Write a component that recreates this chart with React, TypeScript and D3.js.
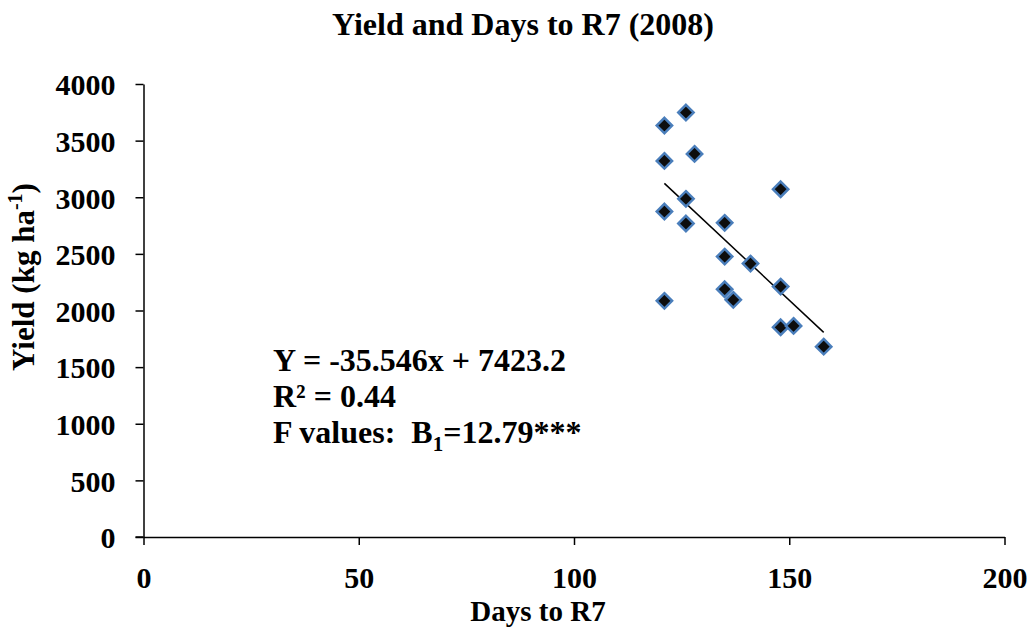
import React, { useRef, useEffect } from 'react';
import * as d3 from 'd3';

// days to R7 and yield (kg/ha)
const days = [121, 126, 121, 128, 148, 126, 121, 126, 135, 135, 141, 148, 135, 137, 121, 148, 151, 158];
const yields = [3633, 3748, 3321, 3383, 3071, 2986, 2874, 2768, 2774, 2476, 2414, 2211, 2188, 2094, 2085, 1852, 1864, 1681];

const xTicks = [0, 50, 100, 150, 200];
const yTicks = [0, 500, 1000, 1500, 2000, 2500, 3000, 3500, 4000];

// fitted line Y = -35.546x + 7423.2
const slope = -35.546;
const intercept = 7423.2;

const W = 1032;
const H = 628;
const font = '"Liberation Serif", "Times New Roman", serif';

const App = () => {
    const svg = useRef<SVGSVGElement>(null);

    useEffect(() => {
        const root = d3.select(svg.current);
        root.selectAll('*').remove();

        const x = d3.scaleLinear().domain([0, 200]).range([143.5, 1004.5]);
        const y = d3.scaleLinear().domain([0, 4000]).range([537, 84]);

        // axes
        const xAxis = root.append('g')
            .attr('transform', `translate(0, ${y(0)})`)
            .call(d3.axisBottom(x).tickValues(xTicks).tickSize(8).tickSizeOuter(0).tickPadding(20).tickFormat(d3.format('d')));
        const yAxis = root.append('g')
            .attr('transform', `translate(${x(0)}, 0)`)
            .call(d3.axisLeft(y).tickValues(yTicks).tickSize(8).tickSizeOuter(0).tickPadding(20).tickFormat(d3.format('d')));

        [xAxis, yAxis].forEach(g => {
            g.select('.domain').attr('stroke', '#000').attr('stroke-width', 1.5);
            g.selectAll('.tick line').attr('stroke', '#000').attr('stroke-width', 1.5);
            g.selectAll('.tick text')
                .attr('fill', '#000')
                .style('font-family', font)
                .style('font-weight', 'bold')
                .style('font-size', '30px');
        });
        xAxis.selectAll('.tick text').attr('y', 0).attr('dy', 0).attr('transform', 'translate(0, 51)');
        yAxis.selectAll('.tick text').attr('dy', '0.36em');

        // x axis line extends back to the outer y tick
        root.append('line')
            .attr('x1', x(0) - 8).attr('x2', x(0))
            .attr('y1', y(0)).attr('y2', y(0))
            .attr('stroke', '#000').attr('stroke-width', 1.5);

        // trend line over the observed range
        const [x0, x1] = d3.extent(days) as [number, number];
        root.append('line')
            .attr('x1', x(x0)).attr('y1', y(slope * x0 + intercept))
            .attr('x2', x(x1)).attr('y2', y(slope * x1 + intercept))
            .attr('stroke', '#000').attr('stroke-width', 1.5);

        // diamond markers
        const diamond = d3.symbol().type(d3.symbolDiamond2).size(150);
        root.append('g')
            .selectAll('path')
            .data(days.map((d, i) => [d, yields[i]]))
            .join('path')
            .attr('transform', d => `translate(${x(d[0])}, ${y(d[1])})`)
            .attr('d', diamond)
            .attr('fill', '#0d0d0d')
            .attr('stroke', '#4a7ebb')
            .attr('stroke-width', 2.5);

        // title
        root.append('text')
            .attr('x', 523).attr('y', 35)
            .attr('text-anchor', 'middle')
            .style('font-family', font).style('font-weight', 'bold').style('font-size', '32px')
            .text('Yield and Days to R7 (2008)');

        // axis titles
        root.append('text')
            .attr('x', 538).attr('y', 621)
            .attr('text-anchor', 'middle')
            .style('font-family', font).style('font-weight', 'bold').style('font-size', '29px')
            .text('Days to R7');

        const yl = root.append('text')
            .attr('transform', 'translate(34, 277) rotate(-90)')
            .attr('text-anchor', 'middle')
            .style('font-family', font).style('font-weight', 'bold').style('font-size', '31px');
        yl.append('tspan').text('Yield (kg ha');
        yl.append('tspan').attr('dy', -12).style('font-size', '20px').text('-1');
        yl.append('tspan').attr('dy', 12).text(')');

        // regression annotation
        const note = root.append('g')
            .style('font-family', font).style('font-weight', 'bold').style('font-size', '32px');
        note.append('text').attr('x', 273).attr('y', 371).text('Y = -35.546x + 7423.2');
        note.append('text').attr('x', 273).attr('y', 407).text('R² = 0.44');
        const f = note.append('text').attr('x', 273).attr('y', 443);
        f.append('tspan').text('F values:\u00a0\u00a0B');
        f.append('tspan').attr('dy', 8).style('font-size', '21px').text('1');
        f.append('tspan').attr('dy', -8).text('=12.79***');
    }, []);

    return (
        <svg width={W} height={H} ref={svg} style={{ position: 'absolute', left: 0, top: 0, background: '#fff' }}>
        </svg>
    );
};

export default App;
